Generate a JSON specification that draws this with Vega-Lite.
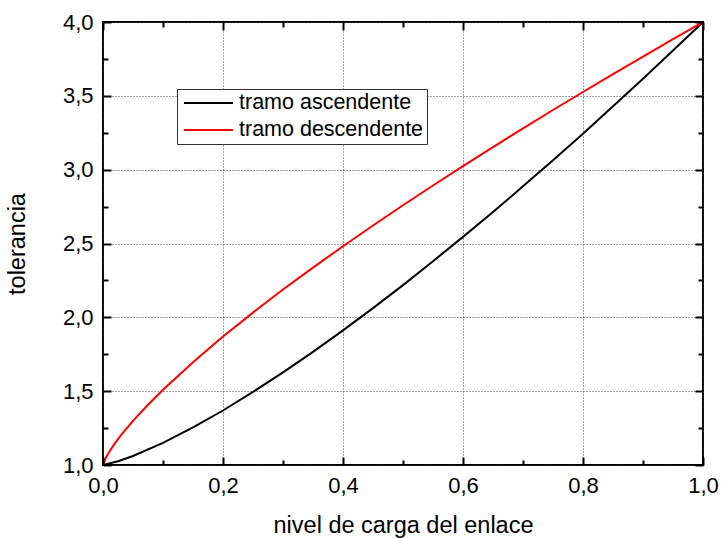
{
  "$schema": "https://vega.github.io/schema/vega-lite/v6.json",
  "autosize": {"type": "none"},
  "width": 600,
  "height": 443,
  "padding": {"left": 103, "top": 22, "right": 18, "bottom": 73},
  "config": {
    "locale": {"number": {"decimal": ",", "thousands": ".", "grouping": [3], "currency": ["", " €"]}},
    "view": {"stroke": "black", "strokeWidth": 2},
    "font": "Liberation Sans",
    "axis": {"labelFont": "Liberation Sans", "titleFont": "Liberation Sans", "labelColor": "black", "titleColor": "black", "labelFontSize": 22, "titleFontSize": 23.5, "titleFontWeight": "normal"}
  },
  "data": {"values": [
    {"x": 0, "y": 1, "s": "tramo ascendente"},
    {"x": 0.025, "y": 1.025, "s": "tramo ascendente"},
    {"x": 0.05, "y": 1.061, "s": "tramo ascendente"},
    {"x": 0.1, "y": 1.15, "s": "tramo ascendente"},
    {"x": 0.15, "y": 1.255, "s": "tramo ascendente"},
    {"x": 0.2, "y": 1.369, "s": "tramo ascendente"},
    {"x": 0.25, "y": 1.495, "s": "tramo ascendente"},
    {"x": 0.3, "y": 1.627, "s": "tramo ascendente"},
    {"x": 0.35, "y": 1.766, "s": "tramo ascendente"},
    {"x": 0.4, "y": 1.912, "s": "tramo ascendente"},
    {"x": 0.45, "y": 2.062, "s": "tramo ascendente"},
    {"x": 0.5, "y": 2.218, "s": "tramo ascendente"},
    {"x": 0.55, "y": 2.38, "s": "tramo ascendente"},
    {"x": 0.6, "y": 2.545, "s": "tramo ascendente"},
    {"x": 0.65, "y": 2.713, "s": "tramo ascendente"},
    {"x": 0.7, "y": 2.887, "s": "tramo ascendente"},
    {"x": 0.75, "y": 3.064, "s": "tramo ascendente"},
    {"x": 0.8, "y": 3.244, "s": "tramo ascendente"},
    {"x": 0.85, "y": 3.429, "s": "tramo ascendente"},
    {"x": 0.9, "y": 3.616, "s": "tramo ascendente"},
    {"x": 0.95, "y": 3.807, "s": "tramo ascendente"},
    {"x": 1, "y": 4, "s": "tramo ascendente"},
    {"x": 0, "y": 1, "s": "tramo descendente"},
    {"x": 0.005, "y": 1.051, "s": "tramo descendente"},
    {"x": 0.01, "y": 1.087, "s": "tramo descendente"},
    {"x": 0.02, "y": 1.148, "s": "tramo descendente"},
    {"x": 0.03, "y": 1.202, "s": "tramo descendente"},
    {"x": 0.05, "y": 1.299, "s": "tramo descendente"},
    {"x": 0.075, "y": 1.408, "s": "tramo descendente"},
    {"x": 0.1, "y": 1.51, "s": "tramo descendente"},
    {"x": 0.15, "y": 1.696, "s": "tramo descendente"},
    {"x": 0.2, "y": 1.87, "s": "tramo descendente"},
    {"x": 0.25, "y": 2.032, "s": "tramo descendente"},
    {"x": 0.3, "y": 2.188, "s": "tramo descendente"},
    {"x": 0.35, "y": 2.337, "s": "tramo descendente"},
    {"x": 0.4, "y": 2.481, "s": "tramo descendente"},
    {"x": 0.45, "y": 2.622, "s": "tramo descendente"},
    {"x": 0.5, "y": 2.759, "s": "tramo descendente"},
    {"x": 0.55, "y": 2.893, "s": "tramo descendente"},
    {"x": 0.6, "y": 3.024, "s": "tramo descendente"},
    {"x": 0.65, "y": 3.153, "s": "tramo descendente"},
    {"x": 0.7, "y": 3.279, "s": "tramo descendente"},
    {"x": 0.75, "y": 3.404, "s": "tramo descendente"},
    {"x": 0.8, "y": 3.526, "s": "tramo descendente"},
    {"x": 0.85, "y": 3.647, "s": "tramo descendente"},
    {"x": 0.9, "y": 3.766, "s": "tramo descendente"},
    {"x": 0.95, "y": 3.884, "s": "tramo descendente"},
    {"x": 1, "y": 4, "s": "tramo descendente"}
  ]},
  "resolve": {"axis": {"x": "independent", "y": "independent"}},
  "layer": [
    {
      "mark": {"type": "line", "strokeWidth": 2, "clip": true},
      "encoding": {
        "x": {"field": "x", "type": "quantitative", "scale": {"domain": [0, 1], "nice": false},
          "axis": {"orient": "bottom", "values": [0, 0.2, 0.4, 0.6, 0.8, 1], "format": ".1f", "ticks": false, "domain": false, "labelPadding": 10, "labelFlush": false,
            "grid": true, "gridDash": [1, 2], "gridColor": "#444", "gridWidth": 1, "title": "nivel de carga del enlace", "titlePadding": 17}},
        "y": {"field": "y", "type": "quantitative", "scale": {"domain": [1, 4], "nice": false, "zero": false},
          "axis": {"orient": "left", "values": [1, 1.5, 2, 2.5, 3, 3.5, 4], "format": ".1f", "ticks": false, "domain": false, "labelPadding": 10, "labelFlush": false,
            "grid": true, "gridDash": [1, 2], "gridColor": "#444", "gridWidth": 1, "title": "tolerancia", "titlePadding": 33}},
        "color": {"field": "s", "type": "nominal", "scale": {"domain": ["tramo ascendente", "tramo descendente"], "range": ["black", "#ff0000"]},
          "legend": {"title": null, "orient": "none", "legendX": 74, "legendY": 67, "symbolType": "M-0.7,0H4.2", "symbolSize": 400, "symbolStrokeWidth": 2,
            "labelFontSize": 21.5, "labelFont": "Liberation Sans", "labelColor": "black", "labelLimit": 400, "strokeColor": "#333", "padding": 3, "rowPadding": 5, "labelOffset": 37, "fillColor": "white"}}
      }
    },
    {
      "mark": {"type": "point", "opacity": 0},
      "encoding": {
        "x": {"field": "x", "type": "quantitative", "scale": {"domain": [0, 1], "nice": false},
          "axis": {"orient": "bottom", "values": [0, 0.1, 0.2, 0.3, 0.4, 0.5, 0.6, 0.7, 0.8, 0.9, 1], "labels": false, "domain": false, "grid": false, "title": null, "tickColor": "black", "tickWidth": 2,
            "tickSize": {"condition": {"test": "indexof([0,0.2,0.4,0.6,0.8,1], datum.value) >= 0", "value": -8}, "value": -5}, "zindex": 2}},
        "y": {"field": "y", "type": "quantitative", "scale": {"domain": [1, 4], "nice": false, "zero": false},
          "axis": {"orient": "left", "values": [1, 1.25, 1.5, 1.75, 2, 2.25, 2.5, 2.75, 3, 3.25, 3.5, 3.75, 4], "labels": false, "domain": false, "grid": false, "title": null, "tickColor": "black", "tickWidth": 2,
            "tickSize": {"condition": {"test": "indexof([1,1.5,2,2.5,3,3.5,4], datum.value) >= 0", "value": -8}, "value": -5}, "zindex": 2}}
      }
    },
    {
      "mark": {"type": "point", "opacity": 0},
      "encoding": {
        "x": {"field": "x", "type": "quantitative", "scale": {"domain": [0, 1], "nice": false},
          "axis": {"orient": "top", "values": [0, 0.1, 0.2, 0.3, 0.4, 0.5, 0.6, 0.7, 0.8, 0.9, 1], "labels": false, "domain": false, "grid": false, "title": null, "tickColor": "black", "tickWidth": 2,
            "tickSize": {"condition": {"test": "indexof([0,0.2,0.4,0.6,0.8,1], datum.value) >= 0", "value": -8}, "value": -5}, "zindex": 2}},
        "y": {"field": "y", "type": "quantitative", "scale": {"domain": [1, 4], "nice": false, "zero": false},
          "axis": {"orient": "right", "values": [1, 1.25, 1.5, 1.75, 2, 2.25, 2.5, 2.75, 3, 3.25, 3.5, 3.75, 4], "labels": false, "domain": false, "grid": false, "title": null, "tickColor": "black", "tickWidth": 2,
            "tickSize": {"condition": {"test": "indexof([1,1.5,2,2.5,3,3.5,4], datum.value) >= 0", "value": -8}, "value": -5}, "zindex": 2}}
      }
    }
  ]
}
